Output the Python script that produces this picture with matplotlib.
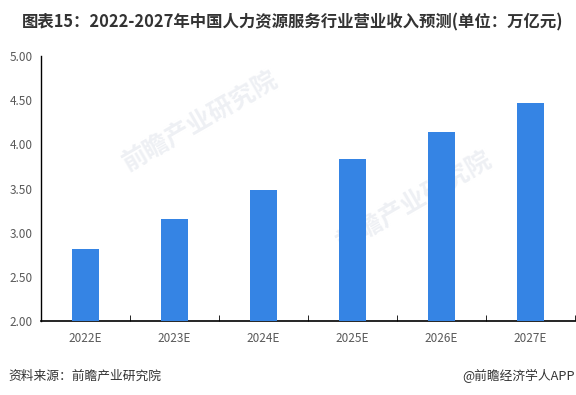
import numpy as np
import matplotlib.pyplot as plt

plt.rcParams['font.family'] = ['Noto Sans CJK SC', 'DejaVu Sans']

years = ["2022E", "2023E", "2024E", "2025E", "2026E", "2027E"]
revenue = [2.82, 3.16, 3.48, 3.83, 4.14, 4.47]

fig = plt.figure(figsize=(5.76, 3.95), dpi=100)
ax = fig.add_axes([41/576, 1 - 321/395, 534/576, 265/395])

x = np.arange(len(years))
ax.bar(x, revenue, width=0.3, color="#3584E4", zorder=3)

ax.set_xlim(-0.5, len(years) - 0.5)
ax.set_ylim(2.0, 5.0)
ax.set_yticks(np.arange(2.0, 5.01, 0.5))
ax.set_yticklabels(["{:.2f}".format(v) for v in np.arange(2.0, 5.01, 0.5)])
ax.set_xticks(x)
ax.set_xticklabels(years)
ax.set_xticks(np.arange(0.5, len(years), 1.0), minor=True)

ax.tick_params(axis="x", which="major", length=0, pad=8, labelsize=8.5, colors="#595959")
ax.tick_params(axis="x", which="minor", direction="in", length=4, color="black")
ax.tick_params(axis="y", length=0, pad=6, labelsize=8.5, colors="#595959")

for s in ["top", "right"]:
    ax.spines[s].set_visible(False)
ax.spines["left"].set_color("black")
ax.spines["bottom"].set_color("black")
ax.spines["left"].set_linewidth(1)
ax.spines["bottom"].set_linewidth(1.2)

# faint watermark behind the bars
for wx, wy in [(0.3, 0.75), (0.7, 0.45)]:
    ax.text(wx, wy, "前瞻产业研究院", transform=ax.transAxes, fontsize=18,
            color="#eef0f4", rotation=30, ha="center", va="center",
            fontweight="bold", zorder=1)

fig.text(22/576, 1 - 22/395, "图表15：2022-2027年中国人力资源服务行业营业收入预测(单位：万亿元)",
         fontsize=11.8, fontweight="bold", color="#333333", va="center", ha="left")
fig.text(8/576, 1 - 376/395, "资料来源：前瞻产业研究院", fontsize=9.2, color="#333333",
         va="center", ha="left")
fig.text(575/576, 1 - 376/395, "@前瞻经济学人APP", fontsize=9.2, color="#333333",
         va="center", ha="right")

fig.savefig("out.png", dpi=100)
